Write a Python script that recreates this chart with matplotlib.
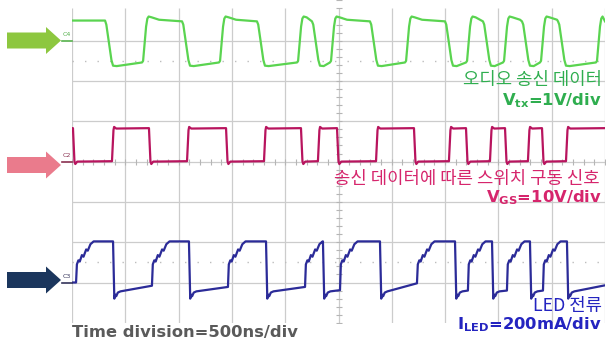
import numpy as np
import matplotlib.pyplot as plt
from matplotlib.patches import FancyArrow

plt.rcParams['mathtext.fontset'] = 'dejavusans'

# time base: 500 ns/div, 10 divisions; vertical: 8 divisions
t_end = 5000
div_ns = 500

# edge times (ns)
green_edges = [310, 657, 1032, 1379, 1735, 2111, 2251, 2420, 2795, 3124,
               3499, 3696, 3855, 4043, 4221, 4390, 4559, 4915]
magenta_edges = [9, 375, 722, 1079, 1445, 1801, 2148, 2307, 2486, 2852,
                 3208, 3536, 3696, 3921, 4062, 4277, 4409, 4634]
blue_edges = [38, 385, 750, 1097, 1463, 1820, 2186, 2354, 2514, 2889,
              3236, 3593, 3714, 3940, 4080, 4296, 4418, 4643]

# edge shapes: (ns after edge, level in div)
green_rise = [(10, 6.5), (38, 7.35), (50, 7.55), (62, 7.6), (90, 7.58), (160, 7.52)]
green_fall = [(12, 7.4), (60, 6.52), (75, 6.38), (110, 6.37)]
magenta_rise = [(14, 4.78), (20, 4.86), (40, 4.82)]
magenta_fall = [(14, 4.0), (22, 3.94), (40, 4.0)]
blue_rise = [(8, 1.45), (22, 1.55), (35, 1.52), (55, 1.68), (70, 1.64), (95, 1.82),
             (110, 1.79), (135, 1.95), (165, 2.02)]
blue_fall = [(12, 0.6), (20, 0.7), (30, 0.66), (45, 0.75), (70, 0.78)]
blue_low_end = [0.92, 0.89, 0.89, 0.81, 0.98, 0.80, 0.80, 0.80, 0.93]

channel_offsets = [7.0, 4.0, 1.0]
channel_names = ['C4', 'C2', 'C3']
colors = ['#5ad450', '#b8145e', '#2b2b98']


def trace(edges, first_rise, rise, fall, start, hi_end, lo_end):
    ts, ys = [0], [start]
    lows = iter(lo_end) if isinstance(lo_end, list) else None
    rising = first_rise
    for k, e in enumerate(edges):
        nxt = edges[k + 1] if k + 1 < len(edges) else t_end
        if k == 0:
            lv = start
        elif rising:
            lv = next(lows) if lows else lo_end
        else:
            lv = hi_end
        ts.append(e)
        ys.append(lv)
        for dt, v in (rise if rising else fall):
            if e + dt < nxt:
                ts.append(e + dt)
                ys.append(v)
        rising = not rising
    if rising:
        ys.append(next(lows) if lows else lo_end)
    else:
        ys.append(hi_end)
    ts.append(t_end)
    return ts, ys


fig = plt.figure(figsize=(6.06, 3.39), dpi=100)
ax = fig.add_axes([72 / 606, 16.2 / 339, 533 / 606, 322.4 / 339])
ax.set_xlim(0, t_end)
ax.set_ylim(0, 8)
ax.set_yticks(np.arange(1, 8))
ax.set_xticks([])
ax.grid(True, axis='y', color='#cccccc', lw=0.9)
ax.vlines(np.arange(0, t_end + 1, div_ns), 0, 7.8, color='#cccccc', lw=0.9)
ax.tick_params(length=0, labelbottom=False, labelleft=False)
for s in ax.spines.values():
    s.set_visible(False)

# dotted reference lines and center-axis ticks
for yd in [6.5, 1.5]:
    ax.axhline(yd, color='#bdbdbd', lw=1.0, ls=(0, (1, 8)))
ax.plot(np.full(41, 2500), np.linspace(0, 8, 41), ls='none', marker='_',
        ms=4, mew=0.8, color='#b5b5b5')
ax.plot(np.arange(0, t_end + 1, 100), np.full(51, 4.0), ls='none', marker='|',
        ms=4, mew=0.8, color='#b5b5b5')

g = trace(green_edges, False, green_rise, green_fall, 7.5, 7.48, 6.46)
m = trace(magenta_edges, False, magenta_rise, magenta_fall, 4.83, 4.83, 4.01)
b = trace(blue_edges, True, blue_rise, blue_fall, 1.0, 2.02, blue_low_end)
for (ts, ys), c in zip([g, m, b], colors):
    ax.plot(ts, ys, color=c, lw=1.6, solid_joinstyle='round')

# channel ground markers
for off, name, c in zip(channel_offsets, channel_names, ['#55b04c', '#8a3050', '#33335a']):
    ax.plot([-90, 0], [off, off], color=c, lw=1.2, clip_on=False)
    ax.text(-45, off + 0.08, name, fontsize=4.5, color=c, ha='center', va='bottom')

# overlay in pixel coordinates for arrows and captions
ov = fig.add_axes([0, 0, 1, 1], facecolor='none')
ov.set_xlim(0, 606)
ov.set_ylim(339, 0)
ov.axis('off')

arrows = [(40.5, '#8dc73f'), (165, '#ea7b8c'), (280, '#1b365d')]
for yc, c in arrows:
    ov.add_patch(FancyArrow(7, yc, 54, 0, width=16, head_width=27, head_length=15,
                            length_includes_head=True, color=c, lw=0))

kr = ['Noto Sans CJK KR', 'DejaVu Sans']
ov.text(602, 80.5, '오디오 송신 데이터', family=kr, fontsize=12.8, weight='medium',
        color='#2fae4f', ha='right', va='center')
ov.text(602, 105, r'$\mathbf{V}_{\mathbf{tx}}$=1V/div', fontsize=11.8, weight='bold',
        color='#2fae4f', ha='right', va='baseline')
ov.text(600, 179, '송신 데이터에 따른 스위치 구동 신호', family=kr, fontsize=12.8,
        weight='medium', color='#d6256c', ha='right', va='center')
ov.text(602, 202.7, r'$\mathbf{V}_{\mathbf{GS}}$=10V/div', fontsize=11.8, weight='bold',
        color='#d6256c', ha='right', va='baseline')
ov.text(602, 305.5, 'LED 전류', family=kr, fontsize=12.8, weight='medium',
        color='#2424c0', ha='right', va='center')
ov.text(602, 329, r'$\mathbf{I}_{\mathbf{LED}}$=200mA/div', fontsize=11.8, weight='bold',
        color='#2424c0', ha='right', va='baseline')
ov.text(72, 337.5, 'Time division=500ns/div', fontsize=11.8, weight='bold',
        color='#5a5a5a', ha='left', va='baseline')

fig.savefig('out.png', dpi=100)
